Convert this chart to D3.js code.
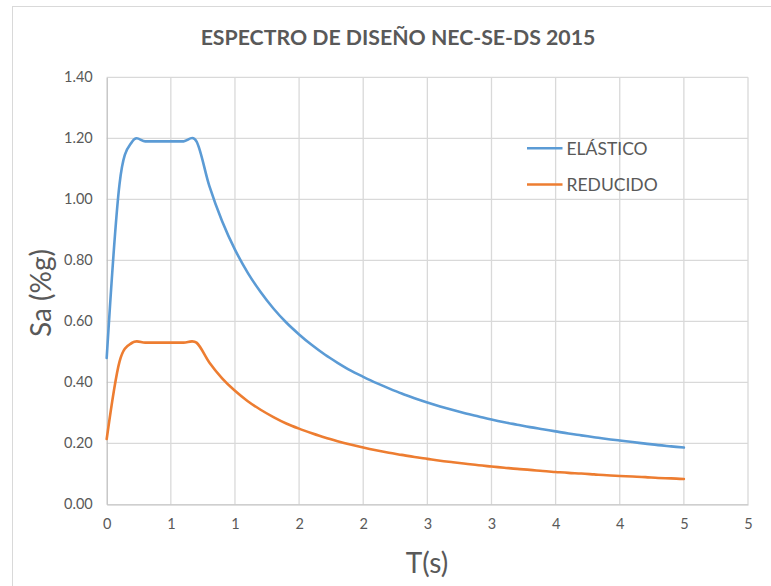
<!DOCTYPE html>
<html>
<head>
<meta charset="utf-8">
<script src="https://cdn.jsdelivr.net/npm/d3@7"></script>
<style>
  html, body { margin: 0; padding: 0; background: #fff; }
  svg { display: block; }
  text { font-family: Lato, "Open Sans", "Liberation Sans", sans-serif; fill: #595959; }
</style>
</head>
<body>
<svg id="chart" width="771" height="586"></svg>
<script>
// ---- data ----
const title = "ESPECTRO DE DISEÑO NEC-SE-DS 2015";
const xTitle = "T(s)";
const yTitle = "Sa (%g)";
const seriesNames = ["ELÁSTICO", "REDUCIDO"];
const seriesColors = ["#5B9BD5", "#ED7D31"];

const periods = [0, 0.1, 0.2, 0.3, 0.4, 0.5, 0.6, 0.7, 0.8, 0.9,
  1.0, 1.1, 1.2, 1.3, 1.4, 1.5, 1.6, 1.7, 1.8, 1.9,
  2.0, 2.1, 2.2, 2.3, 2.4, 2.5, 2.6, 2.7, 2.8, 2.9,
  3.0, 3.1, 3.2, 3.3, 3.4, 3.5, 3.6, 3.7, 3.8, 3.9,
  4.0, 4.1, 4.2, 4.3, 4.4, 4.5];

const elastico = [0.48, 1.05, 1.19, 1.19, 1.19, 1.19, 1.19, 1.19, 1.044, 0.928,
  0.835, 0.759, 0.696, 0.642, 0.596, 0.557, 0.522, 0.491, 0.464, 0.439,
  0.418, 0.398, 0.380, 0.363, 0.348, 0.334, 0.321, 0.309, 0.298, 0.288,
  0.278, 0.269, 0.261, 0.253, 0.246, 0.239, 0.232, 0.226, 0.220, 0.214,
  0.209, 0.204, 0.199, 0.194, 0.190, 0.186];

const reducido = [0.214, 0.468, 0.53, 0.53, 0.53, 0.53, 0.53, 0.53, 0.465, 0.413,
  0.372, 0.338, 0.310, 0.286, 0.265, 0.248, 0.233, 0.219, 0.207, 0.196,
  0.186, 0.177, 0.169, 0.162, 0.155, 0.149, 0.143, 0.138, 0.133, 0.128,
  0.124, 0.120, 0.116, 0.113, 0.109, 0.106, 0.103, 0.101, 0.098, 0.095,
  0.093, 0.091, 0.089, 0.086, 0.085, 0.083];

const xTickValues = [0, 0.5, 1, 1.5, 2, 2.5, 3, 3.5, 4, 4.5, 5];
const xTickLabels = ["0", "1", "1", "2", "2", "3", "3", "4", "4", "5", "5"];
const yTickValues = [0, 0.2, 0.4, 0.6, 0.8, 1.0, 1.2, 1.4];
const yTickLabels = ["0.00", "0.20", "0.40", "0.60", "0.80", "1.00", "1.20", "1.40"];

// ---- layout ----
const svg = d3.select("#chart");
const plot = { left: 106.7, right: 748, top: 77.3, bottom: 504.3 };

const x = d3.scaleLinear().domain([0, 5]).range([plot.left, plot.right]);
const y = d3.scaleLinear().domain([0, 1.4]).range([plot.bottom, plot.top]);

// chart border
svg.append("rect")
  .attr("x", 12.5).attr("y", 6.5)
  .attr("width", 800).attr("height", 640)
  .attr("fill", "none").attr("stroke", "#d9d9d9").attr("stroke-width", 1);

// gridlines
const grid = svg.append("g");
grid.selectAll("line.h").data(yTickValues.filter(v => v > 0)).join("line")
  .attr("x1", plot.left).attr("x2", plot.right)
  .attr("y1", d => y(d)).attr("y2", d => y(d))
  .attr("stroke", "#d9d9d9").attr("stroke-width", 1.3);
grid.selectAll("line.v").data(xTickValues.filter(v => v > 0)).join("line")
  .attr("x1", d => x(d)).attr("x2", d => x(d))
  .attr("y1", plot.top).attr("y2", plot.bottom)
  .attr("stroke", "#d9d9d9").attr("stroke-width", 1.3);

// axes
const yAxis = d3.axisLeft(y).tickValues(yTickValues)
  .tickFormat((d, i) => yTickLabels[i]).tickSize(0).tickPadding(14);
const xAxis = d3.axisBottom(x).tickValues(xTickValues)
  .tickFormat((d, i) => xTickLabels[i]).tickSize(0).tickPadding(14);

const gy = svg.append("g").attr("transform", `translate(${plot.left},0)`).call(yAxis);
const gx = svg.append("g").attr("transform", `translate(0,${plot.bottom})`).call(xAxis);
[gx, gy].forEach(g => {
  g.select(".domain").attr("stroke", "#bfbfbf").attr("stroke-width", 1.3);
  g.selectAll("text").style("font-size", "14.5px").style("fill", "#595959")
    .style("font-family", "Lato, 'Open Sans', sans-serif");
});

// lines
const line = d3.line()
  .x(d => x(d[0])).y(d => y(d[1]))
  .curve(d3.curveCatmullRom.alpha(0));

const seriesData = [elastico, reducido];
seriesData.forEach((vals, k) => {
  svg.append("path")
    .datum(periods.map((t, i) => [t, vals[i]]))
    .attr("d", line)
    .attr("fill", "none")
    .attr("stroke", seriesColors[k])
    .attr("stroke-width", 2.6)
    .attr("stroke-linejoin", "round")
    .attr("stroke-linecap", "round");
});

// legend
const legendY = [148.3, 184.5];
seriesNames.forEach((name, k) => {
  svg.append("line")
    .attr("x1", 527).attr("x2", 562.5)
    .attr("y1", legendY[k]).attr("y2", legendY[k])
    .attr("stroke", seriesColors[k]).attr("stroke-width", 2.6);
  svg.append("text")
    .attr("x", 566.5).attr("y", legendY[k] + 6.5)
    .style("font-size", "17.5px")
    .text(name);
});

// title
const t = svg.append("text")
  .attr("x", 398).attr("y", 45)
  .attr("text-anchor", "middle")
  .style("font-size", "20px").style("font-weight", "bold")
  .text(title);
const tw = t.node().getComputedTextLength();
t.style("font-size", (20 * 395 / tw).toFixed(2) + "px");

// axis titles
svg.append("text")
  .attr("x", 427).attr("y", 573)
  .attr("text-anchor", "middle")
  .style("font-size", "28px")
  .text(xTitle);

svg.append("text")
  .attr("transform", "translate(51,293) rotate(-90)")
  .attr("text-anchor", "middle")
  .style("font-size", "28px")
  .text(yTitle);
</script>
</body>
</html>
